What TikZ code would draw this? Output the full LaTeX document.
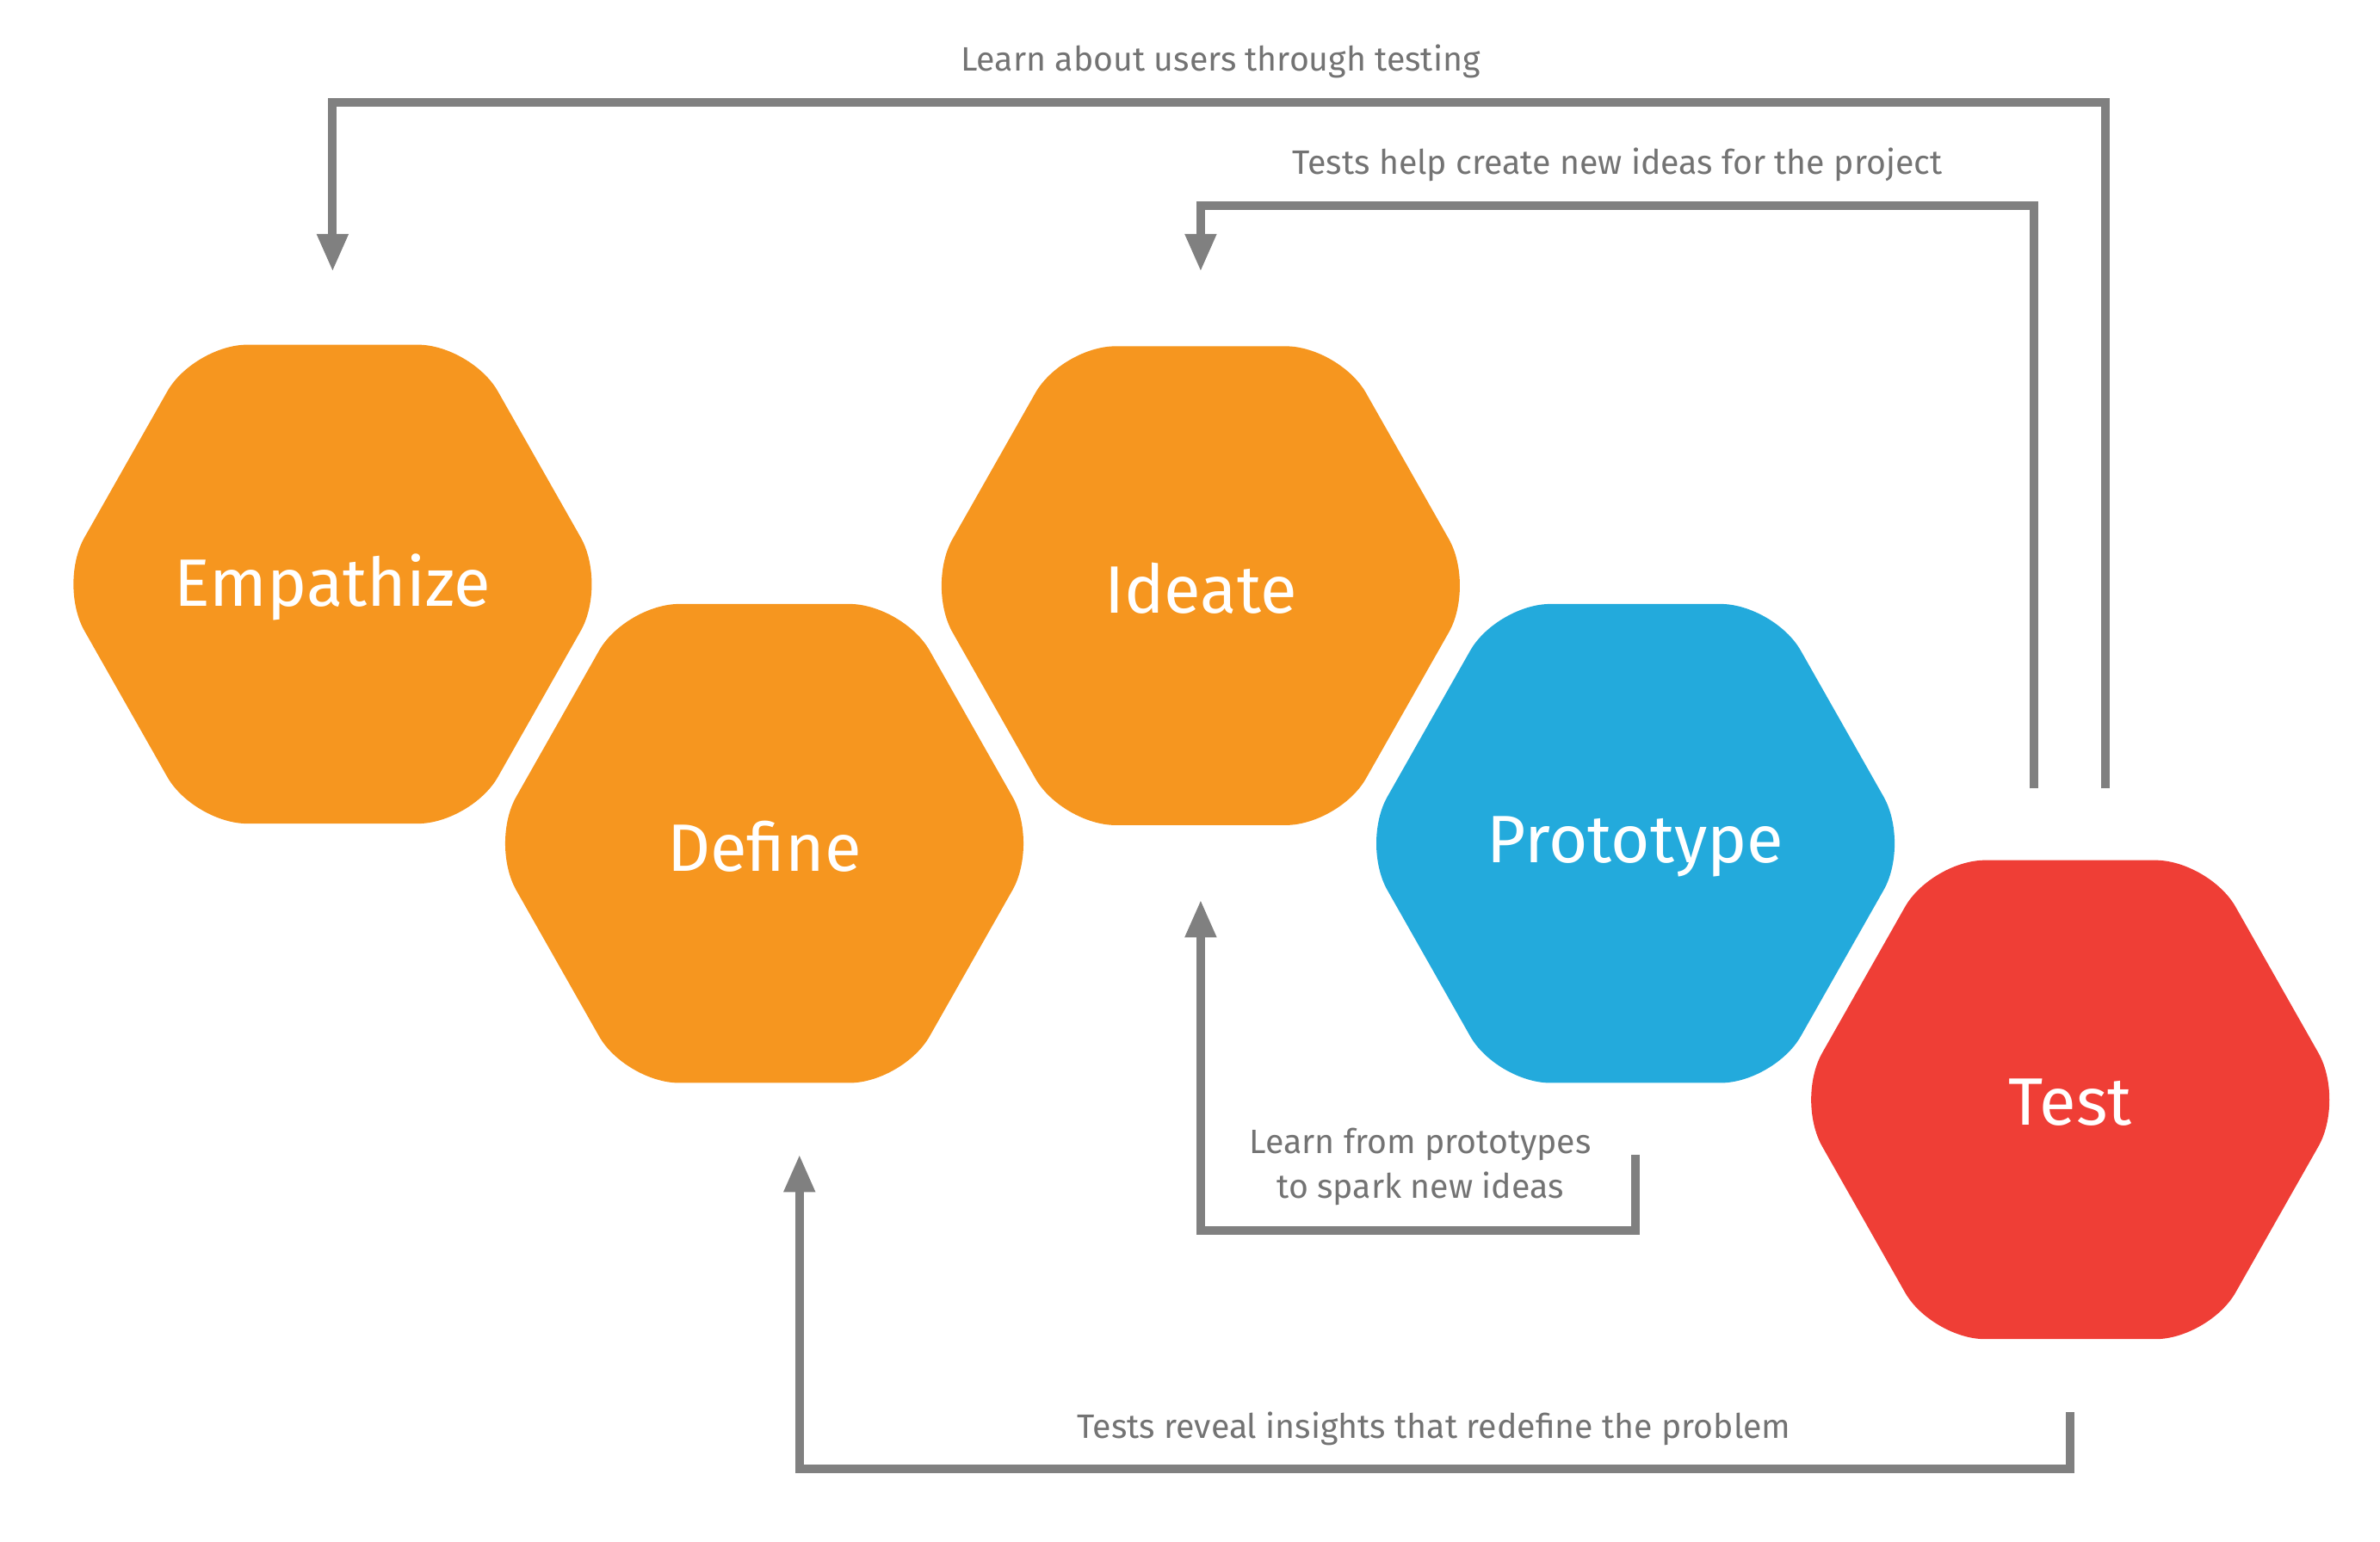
\documentclass[tikz,border=0pt]{standalone}
\usepackage{fontspec}
\setmainfont{Fira Sans}
\usetikzlibrary{arrows.meta}
\definecolor{org}{HTML}{F6961F}
\definecolor{blu}{HTML}{23AADC}
\definecolor{rd}{HTML}{EF3E36}
\definecolor{gr}{HTML}{808080}
\begin{document}
\begin{tikzpicture}[x=0.01cm,y=-0.01cm,
 hex/.style={rounded corners=10pt},
 lab/.style={text=white,font=\fontsize{12.5}{14}\selectfont},
 ln/.style={draw=gr,line width=1.6pt},
 arr/.style={ln,-{Triangle[length=7pt,width=5.5pt]}},
 txt/.style={text=gr!90!black,font=\fontsize{6.3}{8.5}\selectfont,align=center}]
\useasboundingbox (0,0) rectangle (1560,1011);
\newcommand\myhex[3]{\fill[hex,#3] (#1-180,#2) -- (#1-91,#2-157) -- (#1+91,#2-157) -- (#1+180,#2) -- (#1+91,#2+157) -- (#1-91,#2+157) -- cycle;}
\myhex{218}{383}{org}
\myhex{501}{553}{org}
\myhex{787}{384}{org}
\myhex{1072}{553}{blu}
\myhex{1357}{721}{rd}
\node[lab] (e) at (218,385) {Empathize};
\node[lab] (d) at (501,555) {Define};
\node[lab] (i) at (787,386) {Ideate};
\node[lab] (p) at (1072,555) {Prototype};
\node[lab] (t) at (1357,723) {Test};
\coordinate (a1) at (1380,517); \coordinate (a1e) at (218,178);
\coordinate (a2) at (1333,517); \coordinate (a2e) at (787,178);
\coordinate (a3) at (1072,757); \coordinate (a3e) at (787,590);
\coordinate (a4) at (1357,926); \coordinate (a4e) at (524,757);
\draw[arr] (a1) |- (800,67) -| (a1e);
\draw[arr] (a2) |- (1000,135) -| (a2e);
\draw[arr] (a3) |- (900,807) -| (a3e);
\draw[arr] (a4) |- (900,963) -| (a4e);
\node[txt] (l1) at (800,40) {Learn about users through testing};
\node[txt] (l2) at (1060,108) {Tests help create new ideas for the project};
\node[txt] (l3) at (931,765) {Learn from prototypes\\to spark new ideas};
\node[txt] (l4) at (940,937) {Tests reveal insights that redefine the problem};
\end{tikzpicture}
\end{document}
